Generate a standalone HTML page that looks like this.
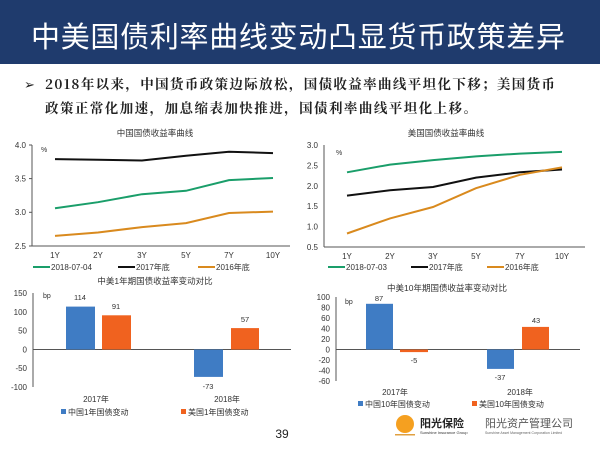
<!DOCTYPE html>
<html><head><meta charset="utf-8"><style>
html,body{margin:0;padding:0;background:#fff;}
svg{display:block;font-family:"Liberation Sans","Noto Sans CJK SC",sans-serif;}
</style></head><body>
<svg width="600" height="450" viewBox="0 0 600 450" xmlns="http://www.w3.org/2000/svg">
<rect x="0" y="0" width="600" height="64" fill="#1f3b6d"/>
<text x="298" y="47" fill="#fff" font-size="29" text-anchor="middle" textLength="534" lengthAdjust="spacing" font-family="'Noto Sans CJK SC',sans-serif">中美国债利率曲线变动凸显货币政策差异</text>
<text x="24" y="89" font-size="13" fill="#222">➢</text>
<text x="45" y="89" font-size="13.5" font-weight="bold" fill="#222" textLength="510" lengthAdjust="spacing" font-family="'Noto Serif CJK SC',serif">2018年以来，中国货币政策边际放松，国债收益率曲线平坦化下移；美国货币</text>
<text x="45" y="113" font-size="13.5" font-weight="bold" fill="#222" textLength="432" lengthAdjust="spacing" font-family="'Noto Serif CJK SC',serif">政策正常化加速，加息缩表加快推进，国债利率曲线平坦化上移。</text>

<g font-size="8" fill="#333">
<!-- Chart 1 -->
<text x="155" y="136" text-anchor="middle" font-size="8.5">中国国债收益率曲线</text>
<line x1="32" y1="145" x2="32" y2="246" stroke="#555"/>
<line x1="32" y1="246" x2="290" y2="246" stroke="#555"/>
<g stroke="#555"><line x1="29" y1="145" x2="32" y2="145"/><line x1="29" y1="178.6" x2="32" y2="178.6"/><line x1="29" y1="212.3" x2="32" y2="212.3"/><line x1="29" y1="246" x2="32" y2="246"/></g>
<text x="26" y="148" text-anchor="end">4.0</text><text x="26" y="181.5" text-anchor="end">3.5</text><text x="26" y="215" text-anchor="end">3.0</text><text x="26" y="249" text-anchor="end">2.5</text>
<text x="41" y="152" font-size="7">%</text>
<g text-anchor="middle"><text x="55" y="258">1Y</text><text x="98" y="258">2Y</text><text x="142" y="258">3Y</text><text x="186" y="258">5Y</text><text x="229" y="258">7Y</text><text x="273" y="258">10Y</text></g>
<polyline fill="none" stroke="#111" stroke-width="2" points="55,159.1 98,159.8 142,160.5 186,155.8 229,151.7 273,153.1"/>
<polyline fill="none" stroke="#1a9e6a" stroke-width="2" points="55,208.3 98,202.2 142,194.2 186,190.8 229,180.1 273,178"/>
<polyline fill="none" stroke="#d98a1e" stroke-width="2" points="55,235.9 98,232.5 142,227.1 186,223.1 229,213 273,211.6"/>
<line x1="33" y1="267" x2="50" y2="267" stroke="#1a9e6a" stroke-width="2"/><text x="51" y="270">2018-07-04</text>
<line x1="118" y1="267" x2="135" y2="267" stroke="#111" stroke-width="2"/><text x="136" y="270">2017年底</text>
<line x1="198" y1="267" x2="215" y2="267" stroke="#d98a1e" stroke-width="2"/><text x="216" y="270">2016年底</text>

<!-- Chart 2 -->
<text x="446" y="136" text-anchor="middle" font-size="8.5">美国国债收益率曲线</text>
<line x1="324" y1="145" x2="324" y2="247" stroke="#555"/>
<line x1="324" y1="247" x2="585" y2="247" stroke="#555"/>
<text x="318" y="148" text-anchor="end">3.0</text><text x="318" y="168.4" text-anchor="end">2.5</text><text x="318" y="188.8" text-anchor="end">2.0</text><text x="318" y="209.2" text-anchor="end">1.5</text><text x="318" y="229.6" text-anchor="end">1.0</text><text x="318" y="250" text-anchor="end">0.5</text>
<text x="336" y="155" font-size="7">%</text>
<g text-anchor="middle"><text x="347" y="259">1Y</text><text x="390" y="259">2Y</text><text x="433" y="259">3Y</text><text x="476" y="259">5Y</text><text x="520" y="259">7Y</text><text x="562" y="259">10Y</text></g>
<polyline fill="none" stroke="#1a9e6a" stroke-width="2" points="347,172.3 390,164.6 433,160.1 476,156.4 520,153.6 562,151.9"/>
<polyline fill="none" stroke="#111" stroke-width="2" points="347,195.6 390,190.3 433,187 476,177.6 520,172.3 562,169.5"/>
<polyline fill="none" stroke="#d98a1e" stroke-width="2" points="347,233.5 390,218.4 433,207 476,188.2 520,174.8 562,167.4"/>
<line x1="328" y1="267" x2="345" y2="267" stroke="#1a9e6a" stroke-width="2"/><text x="346" y="270">2018-07-03</text>
<line x1="411" y1="267" x2="428" y2="267" stroke="#111" stroke-width="2"/><text x="429" y="270">2017年底</text>
<line x1="487" y1="267" x2="504" y2="267" stroke="#d98a1e" stroke-width="2"/><text x="505" y="270">2016年底</text>

<!-- Chart 3 -->
<text x="155" y="284" text-anchor="middle" font-size="8.5">中美1年期国债收益率变动对比</text>
<line x1="33" y1="293" x2="33" y2="387" stroke="#555"/>
<line x1="33" y1="349.5" x2="291" y2="349.5" stroke="#555"/>
<text x="27" y="296" text-anchor="end">150</text><text x="27" y="315" text-anchor="end">100</text><text x="27" y="333.5" text-anchor="end">50</text><text x="27" y="352.5" text-anchor="end">0</text><text x="27" y="371" text-anchor="end">-50</text><text x="27" y="390" text-anchor="end">-100</text>
<text x="43" y="298" font-size="7">bp</text>
<rect x="66" y="306.6" width="29" height="42.9" fill="#3f7cc4"/>
<rect x="102" y="315.3" width="29" height="34.2" fill="#f0621f"/>
<rect x="194" y="349.5" width="29" height="27.4" fill="#3f7cc4"/>
<rect x="231" y="328.1" width="28" height="21.4" fill="#f0621f"/>
<g text-anchor="middle" font-size="7.5"><text x="80" y="300">114</text><text x="116" y="309">91</text><text x="208" y="389">-73</text><text x="245" y="322">57</text></g>
<g text-anchor="middle"><text x="96" y="402">2017年</text><text x="227" y="402">2018年</text></g>
<rect x="61" y="409" width="5" height="5" fill="#3f7cc4"/><text x="68" y="415">中国1年国债变动</text>
<rect x="181" y="409" width="5" height="5" fill="#f0621f"/><text x="188" y="415">美国1年国债变动</text>
<text x="282" y="438" font-size="12" text-anchor="middle" fill="#222">39</text>

<!-- Chart 4 -->
<text x="447" y="291" text-anchor="middle" font-size="8.5">中美10年期国债收益率变动对比</text>
<line x1="336" y1="297" x2="336" y2="381" stroke="#555"/>
<line x1="336" y1="349.5" x2="580" y2="349.5" stroke="#555"/>
<text x="330" y="300" text-anchor="end">100</text><text x="330" y="310.5" text-anchor="end">80</text><text x="330" y="321" text-anchor="end">60</text><text x="330" y="331.5" text-anchor="end">40</text><text x="330" y="342" text-anchor="end">20</text><text x="330" y="352.5" text-anchor="end">0</text><text x="330" y="363" text-anchor="end">-20</text><text x="330" y="373.5" text-anchor="end">-40</text><text x="330" y="384" text-anchor="end">-60</text>
<text x="345" y="304" font-size="7">bp</text>
<rect x="366" y="303.8" width="27" height="45.7" fill="#3f7cc4"/>
<rect x="400" y="349.5" width="28" height="2.6" fill="#f0621f"/>
<rect x="487" y="349.5" width="27" height="19.4" fill="#3f7cc4"/>
<rect x="522" y="326.9" width="27" height="22.6" fill="#f0621f"/>
<g text-anchor="middle" font-size="7.5"><text x="379" y="301">87</text><text x="414" y="363">-5</text><text x="500" y="380">-37</text><text x="536" y="323">43</text></g>
<g text-anchor="middle"><text x="395" y="395">2017年</text><text x="520" y="395">2018年</text></g>
<rect x="358" y="401" width="5" height="5" fill="#3f7cc4"/><text x="365" y="407">中国10年国债变动</text>
<rect x="472" y="401" width="5" height="5" fill="#f0621f"/><text x="479" y="407">美国10年国债变动</text>
</g>

<!-- logo -->
<circle cx="405" cy="424" r="9" fill="#f5a020"/>
<rect x="395" y="434" width="20" height="1.5" fill="#e0a040"/>
<text x="420" y="427" font-size="11" font-weight="bold" fill="#222" font-family="'Noto Sans CJK SC',sans-serif">阳光保险</text>
<text x="420" y="434" font-size="4" fill="#333">Sunshine Insurance Group</text>
<text x="485" y="427" font-size="11" fill="#555" font-family="'Noto Sans CJK SC',sans-serif">阳光资产管理公司</text>
<text x="485" y="434" font-size="3.5" fill="#666">Sunshine Asset Management Corporation Limited</text>
</svg>
</body></html>
